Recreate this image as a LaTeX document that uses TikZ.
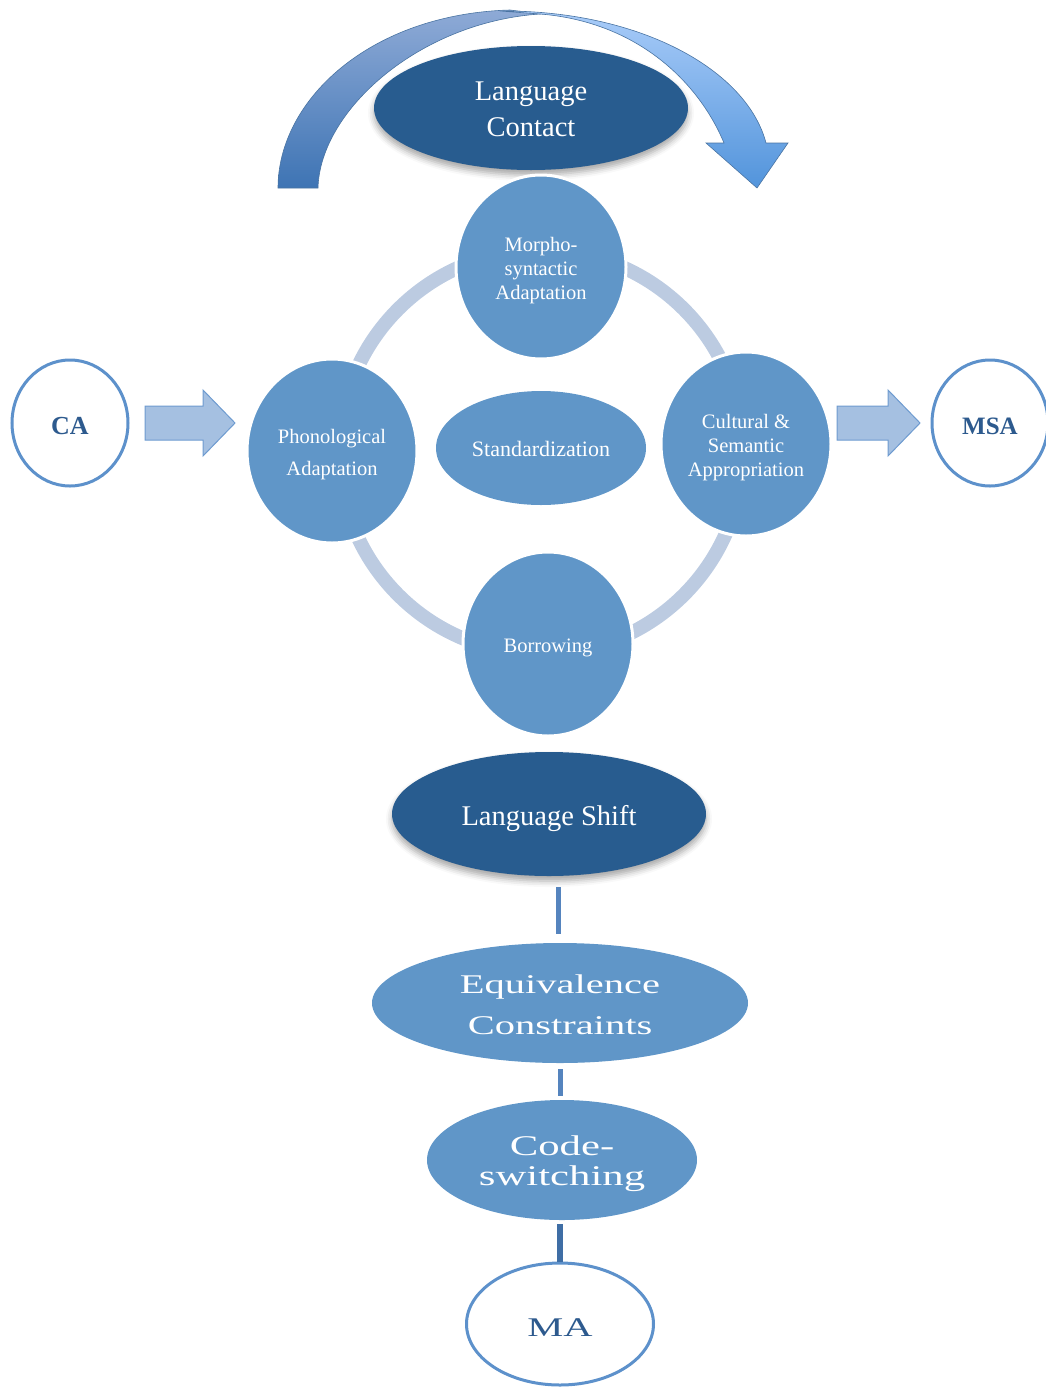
\documentclass[tikz,border=0pt]{standalone}
\usepackage{fontspec}
\setmainfont{Liberation Serif}
\newfontfamily\widefont[FakeStretch=1.5]{Liberation Serif}
\usetikzlibrary{shapes.geometric,shadows.blur}

\definecolor{deepblue}{HTML}{285C8F}
\definecolor{midblue}{HTML}{6096C8}
\definecolor{ringblue}{HTML}{BCCBE1}
\definecolor{edgeblue}{HTML}{5D91CB}
\definecolor{labelblue}{HTML}{2D5A8E}
\definecolor{arrowfill}{HTML}{A5C0E1}
\definecolor{arrowedge}{HTML}{6E9BD0}
\definecolor{linkblue}{HTML}{5584BE}
\definecolor{linkdark}{HTML}{3F6EA5}
\definecolor{bendtop}{HTML}{8EAAD6}
\definecolor{bendbase}{HTML}{3E74B4}
\definecolor{facetop}{HTML}{A9CCF9}
\definecolor{facebase}{HTML}{5294DB}

\begin{document}
\begin{tikzpicture}[x=1pt,y=-1pt,
  darkoval/.style={ellipse, inner sep=0pt, fill=deepblue,
    minimum width=314pt, minimum height=124pt,
    blur shadow={shadow xshift=0pt, shadow yshift=-5pt,
      shadow blur radius=6pt, shadow opacity=35}},
  ball/.style={ellipse, inner sep=0pt, fill=midblue, draw=white,
    line width=3pt, minimum width=170pt, minimum height=184pt},
  flatoval/.style={ellipse, inner sep=0pt, fill=midblue},
  endoval/.style={ellipse, inner sep=0pt, fill=white, draw=edgeblue,
    line width=3pt},
  % captions sit a little below the geometric centre of their shape
  txt/.style={align=center, inner sep=0pt, yshift=-3.5pt, text=white,
    font=\fontsize{20.5}{24}\selectfont},
  bigtxt/.style={txt, font=\fontsize{28.5}{36}\selectfont},
  widetxt/.style={txt, font=\widefont\fontsize{27}{41}\selectfont},
  endtxt/.style={txt, text=labelblue},
  ringline/.style={draw=ringblue, line width=14pt},
  blockarrow/.style={fill=arrowfill, draw=arrowedge, line width=1pt,
    line join=miter},
  link/.style={draw=linkblue, line width=5pt},
]
\useasboundingbox (0,0) rectangle (1045,1387);

% curved arrow over the top: outer face on the left, inner face and head on the right
\path[draw=edgeblue!80!black, line width=0.6pt,
      top color=bendtop, bottom color=bendbase]
  (278,188) .. controls (278,100) and (370,14) .. (510,10)
  -- (540,14) .. controls (420,22) and (320,110) .. (318,188) -- cycle;
\path[draw=edgeblue!80!black, line width=0.6pt,
      top color=facetop, bottom color=facebase]
  (500,11) .. controls (640,10) and (747,70) .. (766,143)
  -- (788,143) -- (757,188) -- (706,143) -- (724,143)
  .. controls (700,85) and (640,22) .. (540,14) -- cycle;

% ring joining the four stages
\coordinate (ringc) at (541,452);
\path[ringline] (ringc) circle[radius=202pt];

% top and bottom ovals
\node[darkoval, label={[bigtxt, yshift=2pt]center:{Language\\Contact}}]
  (contact) at (531,108) {};
\node[darkoval, label={[bigtxt, yshift=-1pt]center:Language Shift}]
  (shift) at (549,814) {};

% the four stages and the centre
\node[ball, label={[txt]center:{Morpho-\\syntactic\\Adaptation}}]
  (morpho) at (541,267) {};
\node[ball, label={[txt, font=\fontsize{20.5}{32}\selectfont]center:{Phonological\\Adaptation}}]
  (phono) at (332,451) {};
\node[ball, label={[txt]center:{Cultural \&\\Semantic\\Appropriation}}]
  (cultural) at (746,444) {};
\node[ball, label={[txt]center:Borrowing}] (borrow) at (548,644) {};
\node[flatoval, minimum width=210pt, minimum height=114pt,
      label={[txt, yshift=3pt, font=\fontsize{22}{26}\selectfont]center:Standardization}]
  (standard) at (541,448) {};

% source and target varieties
\node[endoval, minimum width=116pt, minimum height=126pt,
      label={[endtxt, font=\fontsize{26}{30}\selectfont\bfseries]center:CA}]
  (ca) at (70,423) {};
\node[endoval, minimum width=116pt, minimum height=126pt,
      label={[endtxt, font=\fontsize{25}{30}\selectfont\bfseries]center:MSA}]
  (msa) at (990,423) {};

% block arrows
\path[blockarrow] (145,406) -- (203,406) -- (203,390) -- (235,423)
  -- (203,456) -- (203,440) -- (145,440) -- cycle;
\path[blockarrow] (837,406) -- (888,406) -- (888,390) -- (920,423)
  -- (888,456) -- (888,440) -- (837,440) -- cycle;

% lower chain
\node[flatoval, minimum width=376pt, minimum height=120pt,
      label={[widetxt, yshift=2pt]center:{Equivalence\\Constraints}}]
  (equiv) at (560,1003) {};
\node[flatoval, minimum width=270pt, minimum height=120pt,
      label={[widetxt, font=\widefont\fontsize{28.5}{30}\selectfont]center:{Code-\\switching}}]
  (code) at (562,1160) {};
\node[endoval, minimum width=187pt, minimum height=122pt,
      label={[endtxt, font=\widefont\fontsize{27}{30}\selectfont]center:MA}]
  (ma) at (560,1324) {};

\path (shift.south) ++(9,0) coordinate (s1);
\draw[link, shorten <=11pt, shorten >=9pt] (s1) -- (equiv.north -| s1);
\draw[link, shorten <=6pt, shorten >=4pt] (equiv.south) -- (code.north -| equiv.south);
\draw[link, draw=linkdark, line width=6pt, shorten <=4pt] (code.south -| ma.north) -- (ma.north);
\end{tikzpicture}
\end{document}
